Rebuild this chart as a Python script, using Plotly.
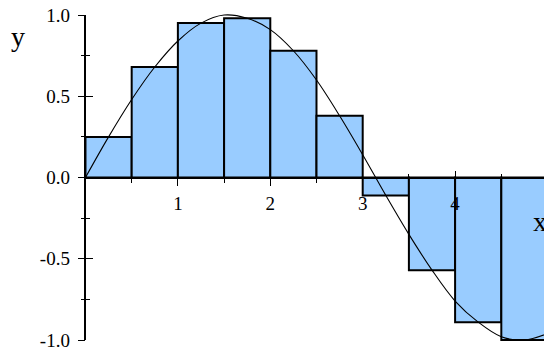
import plotly.graph_objects as go

# Midpoint rectangles of width 0.5 under y = sin(x)
bar_left = [0.0, 0.5, 1.0, 1.5, 2.0, 2.5, 3.0, 3.5, 4.0, 4.5]
bar_height = [0.25, 0.68, 0.95, 0.98, 0.78, 0.38, -0.11, -0.57, -0.89, -1.0]
bar_width = 0.5

# Sampled points of the smooth curve
curve_x = [0.0, 0.25, 0.5, 0.75, 1.0, 1.25, 1.5, 1.75, 2.0, 2.25, 2.5, 2.75,
           3.0, 3.25, 3.5, 3.75, 4.0, 4.25, 4.5, 4.75, 5.0]
curve_y = [0.0, 0.25, 0.48, 0.68, 0.84, 0.95, 1.0, 0.98, 0.91, 0.78, 0.6, 0.38,
           0.14, -0.11, -0.35, -0.57, -0.76, -0.89, -0.98, -1.0, -0.96]

x_ticks = [1, 2, 3, 4]
x_minor = [0.5, 1.5, 2.5, 3.5, 4.5]
y_ticks = [-1.0, -0.5, 0.0, 0.5, 1.0]
y_labels = ["-1.0", "-0.5", "0.0", "0.5", "1.0"]
y_minor = [-0.75, -0.25, 0.25, 0.75]

X_RANGE = [-0.925, 4.962]
Y_RANGE = [-1.0615, 1.0923]
Y_AXIS_SPAN = [-1.003, 1.003]

W, H = 544, 350
FONT = "Liberation Serif, Times New Roman, serif"


def frac(v, rng):
    return (v - rng[0]) / (rng[1] - rng[0])


x0_paper = frac(0.0, X_RANGE)
y0_paper = frac(0.0, Y_RANGE)

fig = go.Figure()

fig.add_trace(go.Bar(
    x=[b + bar_width / 2 for b in bar_left],
    y=bar_height,
    width=bar_width,
    marker=dict(color="#99CCFF", line=dict(color="black", width=2)),
    hoverinfo="skip",
    showlegend=False,
))

fig.add_trace(go.Scatter(
    x=curve_x, y=curve_y, mode="lines",
    line=dict(color="black", width=1.1, shape="spline"),
    hoverinfo="skip", showlegend=False,
))

# Placeholder traces so the crossing-axis subplots get drawn
for xa, ya in (("x2", "y2"), ("x3", "y3")):
    fig.add_trace(go.Scatter(
        x=[1], y=[0], xaxis=xa, yaxis=ya, mode="markers",
        marker=dict(opacity=0), hoverinfo="skip", showlegend=False,
    ))

tick_font = dict(family=FONT, size=19, color="black")

x_common = dict(
    domain=[x0_paper, 1], range=[0, X_RANGE[1]], anchor="free",
    position=y0_paper, tickvals=x_ticks, showgrid=False, zeroline=False,
    tickcolor="black", tickwidth=1, automargin=False,
    ticklabeloverflow="allow",
)
y_common = dict(
    domain=[frac(Y_AXIS_SPAN[0], Y_RANGE), frac(Y_AXIS_SPAN[1], Y_RANGE)],
    range=Y_AXIS_SPAN, anchor="free", position=x0_paper, tickvals=y_ticks,
    showgrid=False, zeroline=False, tickcolor="black", tickwidth=1,
    automargin=False, ticklabeloverflow="allow",
)

fig.update_layout(
    template="none",
    width=W, height=H, autosize=False,
    margin=dict(l=0, r=0, t=0, b=0, pad=0),
    paper_bgcolor="white", plot_bgcolor="rgba(0,0,0,0)",
    font=dict(family=FONT, color="black"),
    showlegend=False,
    xaxis=dict(range=X_RANGE, visible=False, domain=[0, 1], automargin=False),
    yaxis=dict(range=Y_RANGE, visible=False, domain=[0, 1], automargin=False),
    xaxis2=dict(
        **x_common, showline=True, linecolor="black", linewidth=2,
        ticks="outside", ticklen=7, ticklabelstandoff=2,
        tickfont=tick_font, showticklabels=True,
        minor=dict(tickvals=x_minor, ticks="outside", ticklen=4,
                   tickcolor="black", tickwidth=1, showgrid=False),
    ),
    xaxis3=dict(
        **x_common, showline=False, ticks="inside", ticklen=7,
        showticklabels=False,
        minor=dict(tickvals=x_minor, ticks="inside", ticklen=4,
                   tickcolor="black", tickwidth=1, showgrid=False),
    ),
    yaxis2=dict(
        **y_common, showline=True, linecolor="black", linewidth=1.5,
        ticks="outside", ticklen=7, ticktext=y_labels, tickfont=tick_font,
        showticklabels=True, ticklabelstandoff=4,
        minor=dict(tickvals=y_minor, ticks="outside", ticklen=3.5,
                   tickcolor="black", tickwidth=1, showgrid=False),
    ),
    yaxis3=dict(
        **y_common, showline=False, ticks="inside", ticklen=7,
        showticklabels=False,
        minor=dict(tickvals=y_minor, ticks="inside", ticklen=3.5,
                   tickcolor="black", tickwidth=1, showgrid=False),
    ),
    annotations=[
        dict(text="y", x=18 / W, y=1 - 36 / H, xref="paper", yref="paper",
             showarrow=False, font=dict(family=FONT, size=28, color="black"),
             xanchor="center", yanchor="middle"),
        dict(text="x", x=540 / W, y=1 - 222 / H, xref="paper", yref="paper",
             showarrow=False, font=dict(family=FONT, size=28, color="black"),
             xanchor="center", yanchor="middle"),
    ],
)

fig.write_html("out.html")
